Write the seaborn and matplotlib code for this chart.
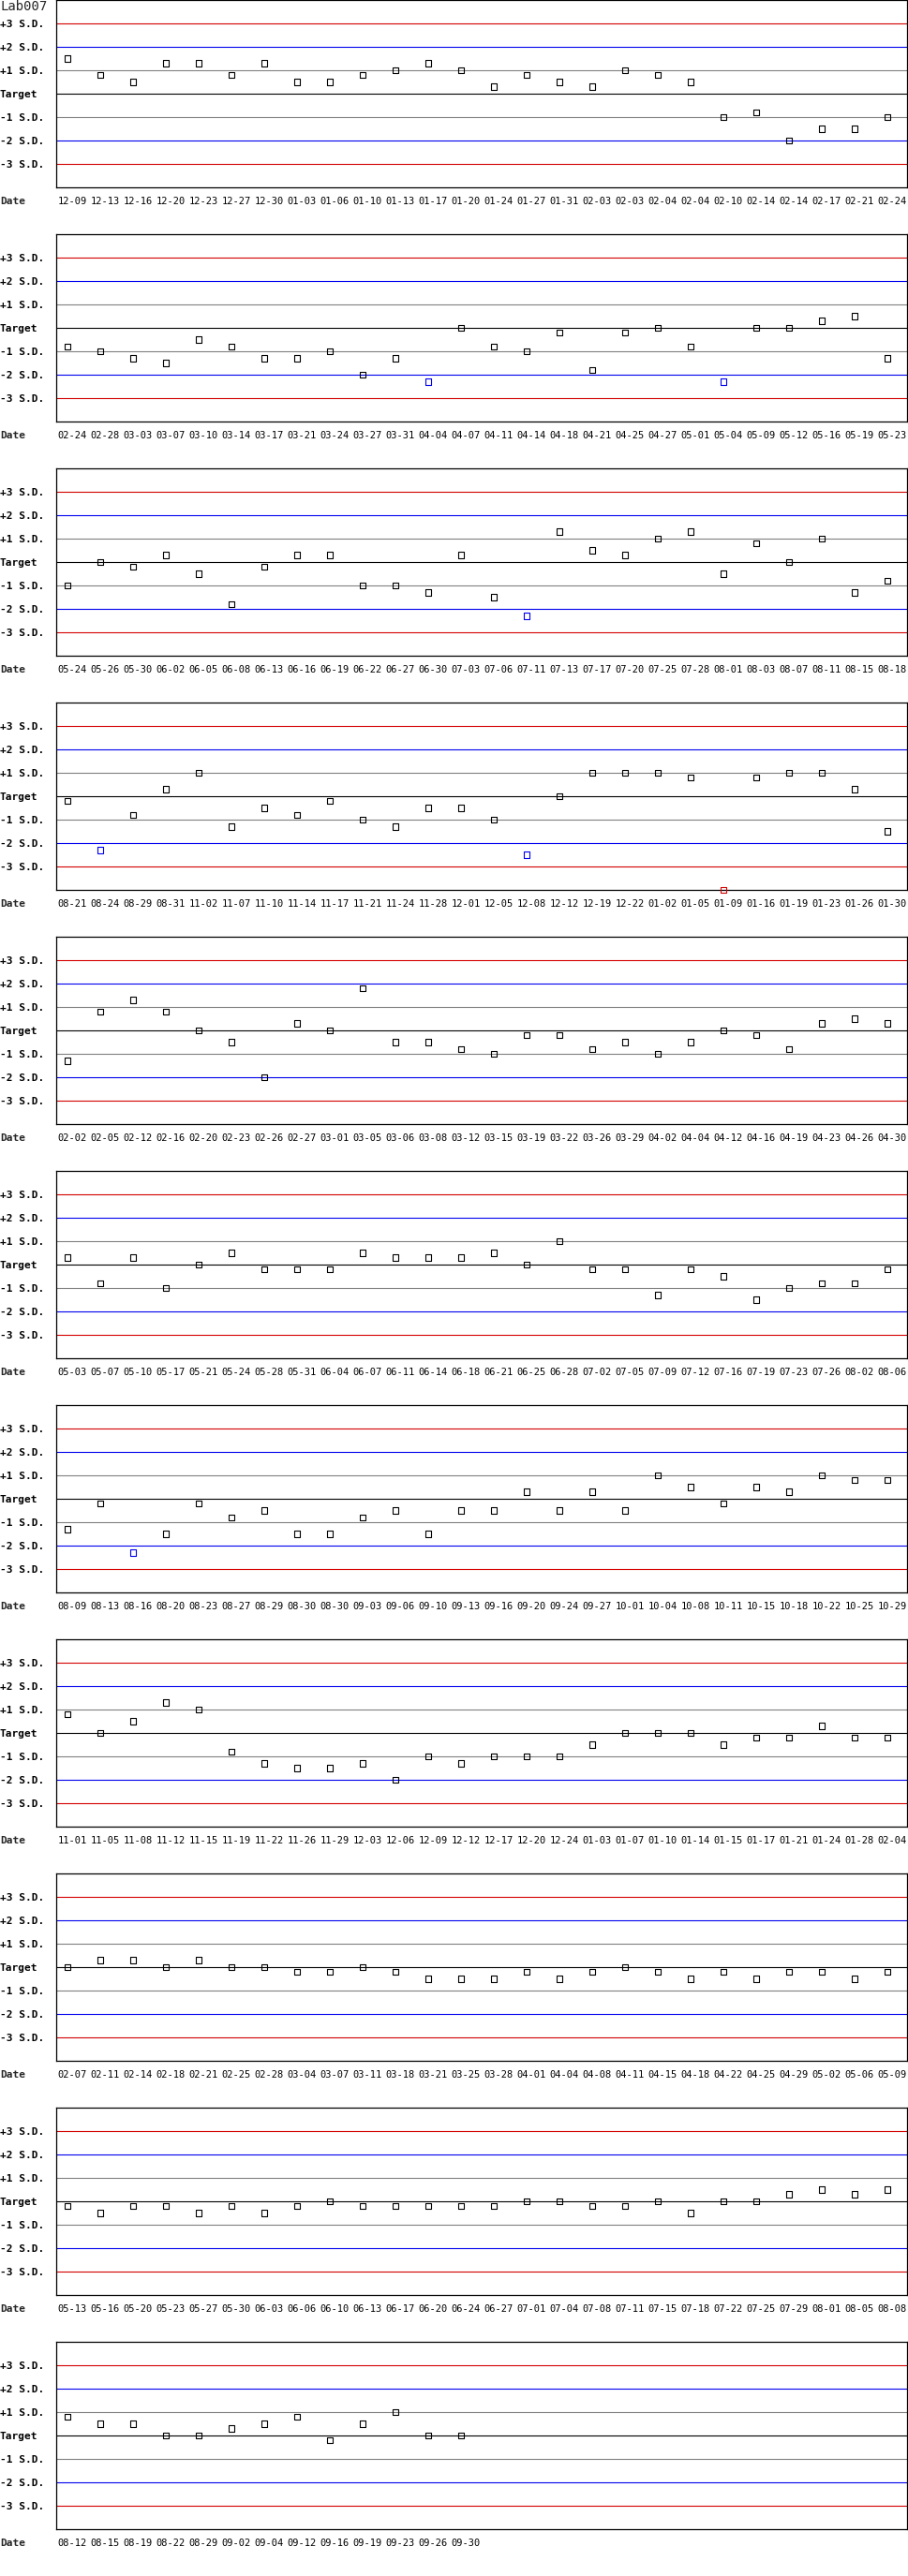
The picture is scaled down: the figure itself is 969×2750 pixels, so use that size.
import matplotlib
matplotlib.use("Agg")
import matplotlib.pyplot as plt
import matplotlib.transforms as mtransforms
import seaborn as sns
import pandas as pd
import numpy as np

# ---------------- data ----------------
title = "Lab007"
sd_levels = [3, 2, 1, 0, -1, -2, -3]
sd_labels = ["+3 S.D.", "+2 S.D.", "+1 S.D.", "Target", "-1 S.D.", "-2 S.D.", "-3 S.D."]
sd_colors = ["#d40000", "#0000ee", "#808080", "#000000", "#808080", "#0000ee", "#d40000"]

p1_dates = ["12-09", "12-13", "12-16", "12-20", "12-23", "12-27", "12-30", "01-03", "01-06", "01-10",
            "01-13", "01-17", "01-20", "01-24", "01-27", "01-31", "02-03", "02-03", "02-04", "02-04",
            "02-10", "02-14", "02-14", "02-17", "02-21", "02-24"]
p1_values = [1.5, 0.8, 0.5, 1.3, 1.3, 0.8, 1.3, 0.5, 0.5, 0.8,
             1.0, 1.3, 1.0, 0.3, 0.8, 0.5, 0.3, 1.0, 0.8, 0.5,
             -1.0, -0.8, -2.0, -1.5, -1.5, -1.0]

p2_dates = ["02-24", "02-28", "03-03", "03-07", "03-10", "03-14", "03-17", "03-21", "03-24", "03-27",
            "03-31", "04-04", "04-07", "04-11", "04-14", "04-18", "04-21", "04-25", "04-27", "05-01",
            "05-04", "05-09", "05-12", "05-16", "05-19", "05-23"]
p2_values = [-0.8, -1.0, -1.3, -1.5, -0.5, -0.8, -1.3, -1.3, -1.0, -2.0,
             -1.3, -2.3, 0.0, -0.8, -1.0, -0.2, -1.8, -0.2, 0.0, -0.8,
             -2.3, 0.0, 0.0, 0.3, 0.5, -1.3]

p3_dates = ["05-24", "05-26", "05-30", "06-02", "06-05", "06-08", "06-13", "06-16", "06-19", "06-22",
            "06-27", "06-30", "07-03", "07-06", "07-11", "07-13", "07-17", "07-20", "07-25", "07-28",
            "08-01", "08-03", "08-07", "08-11", "08-15", "08-18"]
p3_values = [-1.0, 0.0, -0.2, 0.3, -0.5, -1.8, -0.2, 0.3, 0.3, -1.0,
             -1.0, -1.3, 0.3, -1.5, -2.3, 1.3, 0.5, 0.3, 1.0, 1.3,
             -0.5, 0.8, 0.0, 1.0, -1.3, -0.8]

p4_dates = ["08-21", "08-24", "08-29", "08-31", "11-02", "11-07", "11-10", "11-14", "11-17", "11-21",
            "11-24", "11-28", "12-01", "12-05", "12-08", "12-12", "12-19", "12-22", "01-02", "01-05",
            "01-09", "01-16", "01-19", "01-23", "01-26", "01-30"]
p4_values = [-0.2, -2.3, -0.8, 0.3, 1.0, -1.3, -0.5, -0.8, -0.2, -1.0,
             -1.3, -0.5, -0.5, -1.0, -2.5, 0.0, 1.0, 1.0, 1.0, 0.8,
             -4.0, 0.8, 1.0, 1.0, 0.3, -1.5]

p5_dates = ["02-02", "02-05", "02-12", "02-16", "02-20", "02-23", "02-26", "02-27", "03-01", "03-05",
            "03-06", "03-08", "03-12", "03-15", "03-19", "03-22", "03-26", "03-29", "04-02", "04-04",
            "04-12", "04-16", "04-19", "04-23", "04-26", "04-30"]
p5_values = [-1.3, 0.8, 1.3, 0.8, 0.0, -0.5, -2.0, 0.3, 0.0, 1.8,
             -0.5, -0.5, -0.8, -1.0, -0.2, -0.2, -0.8, -0.5, -1.0, -0.5,
             0.0, -0.2, -0.8, 0.3, 0.5, 0.3]

p6_dates = ["05-03", "05-07", "05-10", "05-17", "05-21", "05-24", "05-28", "05-31", "06-04", "06-07",
            "06-11", "06-14", "06-18", "06-21", "06-25", "06-28", "07-02", "07-05", "07-09", "07-12",
            "07-16", "07-19", "07-23", "07-26", "08-02", "08-06"]
p6_values = [0.3, -0.8, 0.3, -1.0, 0.0, 0.5, -0.2, -0.2, -0.2, 0.5,
             0.3, 0.3, 0.3, 0.5, 0.0, 1.0, -0.2, -0.2, -1.3, -0.2,
             -0.5, -1.5, -1.0, -0.8, -0.8, -0.2]

p7_dates = ["08-09", "08-13", "08-16", "08-20", "08-23", "08-27", "08-29", "08-30", "08-30", "09-03",
            "09-06", "09-10", "09-13", "09-16", "09-20", "09-24", "09-27", "10-01", "10-04", "10-08",
            "10-11", "10-15", "10-18", "10-22", "10-25", "10-29"]
p7_values = [-1.3, -0.2, -2.3, -1.5, -0.2, -0.8, -0.5, -1.5, -1.5, -0.8,
             -0.5, -1.5, -0.5, -0.5, 0.3, -0.5, 0.3, -0.5, 1.0, 0.5,
             -0.2, 0.5, 0.3, 1.0, 0.8, 0.8]

p8_dates = ["11-01", "11-05", "11-08", "11-12", "11-15", "11-19", "11-22", "11-26", "11-29", "12-03",
            "12-06", "12-09", "12-12", "12-17", "12-20", "12-24", "01-03", "01-07", "01-10", "01-14",
            "01-15", "01-17", "01-21", "01-24", "01-28", "02-04"]
p8_values = [0.8, 0.0, 0.5, 1.3, 1.0, -0.8, -1.3, -1.5, -1.5, -1.3,
             -2.0, -1.0, -1.3, -1.0, -1.0, -1.0, -0.5, 0.0, 0.0, 0.0,
             -0.5, -0.2, -0.2, 0.3, -0.2, -0.2]

p9_dates = ["02-07", "02-11", "02-14", "02-18", "02-21", "02-25", "02-28", "03-04", "03-07", "03-11",
            "03-18", "03-21", "03-25", "03-28", "04-01", "04-04", "04-08", "04-11", "04-15", "04-18",
            "04-22", "04-25", "04-29", "05-02", "05-06", "05-09"]
p9_values = [0.0, 0.3, 0.3, 0.0, 0.3, 0.0, 0.0, -0.2, -0.2, 0.0,
             -0.2, -0.5, -0.5, -0.5, -0.2, -0.5, -0.2, 0.0, -0.2, -0.5,
             -0.2, -0.5, -0.2, -0.2, -0.5, -0.2]

p10_dates = ["05-13", "05-16", "05-20", "05-23", "05-27", "05-30", "06-03", "06-06", "06-10", "06-13",
             "06-17", "06-20", "06-24", "06-27", "07-01", "07-04", "07-08", "07-11", "07-15", "07-18",
             "07-22", "07-25", "07-29", "08-01", "08-05", "08-08"]
p10_values = [-0.2, -0.5, -0.2, -0.2, -0.5, -0.2, -0.5, -0.2, 0.0, -0.2,
              -0.2, -0.2, -0.2, -0.2, 0.0, 0.0, -0.2, -0.2, 0.0, -0.5,
              0.0, 0.0, 0.3, 0.5, 0.3, 0.5]

p11_dates = ["08-12", "08-15", "08-19", "08-22", "08-29", "09-02", "09-04", "09-12", "09-16", "09-19",
             "09-23", "09-26", "09-30"]
p11_values = [0.8, 0.5, 0.5, 0.0, 0.0, 0.3, 0.5, 0.8, -0.2, 0.5,
              1.0, 0.0, 0.0]

panels = [(p1_dates, p1_values), (p2_dates, p2_values), (p3_dates, p3_values),
          (p4_dates, p4_values), (p5_dates, p5_values), (p6_dates, p6_values),
          (p7_dates, p7_values), (p8_dates, p8_values), (p9_dates, p9_values),
          (p10_dates, p10_values), (p11_dates, p11_values)]

status_colors = {"ok": "#000000", "warn": "#0000ee", "reject": "#d40000"}

# ---------------- style ----------------
sns.set_theme(style="white")
plt.rcParams["font.family"] = ["DejaVu Sans Mono", "DejaVu Sans"]
plt.rcParams["axes.edgecolor"] = "black"

W, H = 970, 2750
DPI = 100
fig = plt.figure(figsize=(W / DPI, H / DPI), dpi=DPI)
fig.patch.set_facecolor("white")

slots = 26
for k, (dates, vals) in enumerate(panels):
    top = 250 * k
    ax = fig.add_axes([60 / W, 1 - (top + 200) / H, 908 / W, 200 / H])
    ax.set_facecolor("white")
    df = pd.DataFrame({"idx": np.arange(len(dates)), "value": vals, "date": dates})
    a = df["value"].abs()
    df["status"] = np.where(a > 3, "reject", np.where(a > 2, "warn", "ok"))

    for lv, col in zip(sd_levels, sd_colors):
        ax.axhline(lv, color=col, lw=0.8, zorder=1)

    for status, col in status_colors.items():
        sub = df[df["status"] == status]
        if len(sub):
            sns.scatterplot(data=sub, x="idx", y="value", ax=ax, marker="s", s=24,
                            facecolor="none", edgecolor=col, linewidth=0.8,
                            zorder=3, clip_on=False, legend=False)

    ax.set_xlim(-12 / 35, (slots - 1) + 21 / 35)
    ax.set_ylim(-4, 4)

    ax.set_yticks(sd_levels)
    ax.set_yticklabels(sd_labels, fontweight="bold", fontsize=8, ha="left")
    ax.tick_params(axis="y", length=0, pad=43.2, colors="black")

    ax.set_xticks(df["idx"])
    ax.set_xticklabels(dates, fontsize=7.5)
    ax.tick_params(axis="x", length=0, pad=7.5, colors="black")
    offset = mtransforms.ScaledTranslation(5 / DPI, 0, fig.dpi_scale_trans)
    for lbl in ax.get_xticklabels():
        lbl.set_transform(lbl.get_transform() + offset)

    ax.set_xlabel("")
    ax.set_ylabel("")
    for sp in ax.spines.values():
        sp.set_visible(True)
        sp.set_linewidth(0.9)
        sp.set_color("black")

    fig.text(0.0, 1 - (top + 215) / H, "Date", fontweight="bold", fontsize=8, va="center")

fig.text(0.0, 1.0, title, fontsize=10, va="top")

fig.savefig("out.png", dpi=DPI, facecolor="white")
